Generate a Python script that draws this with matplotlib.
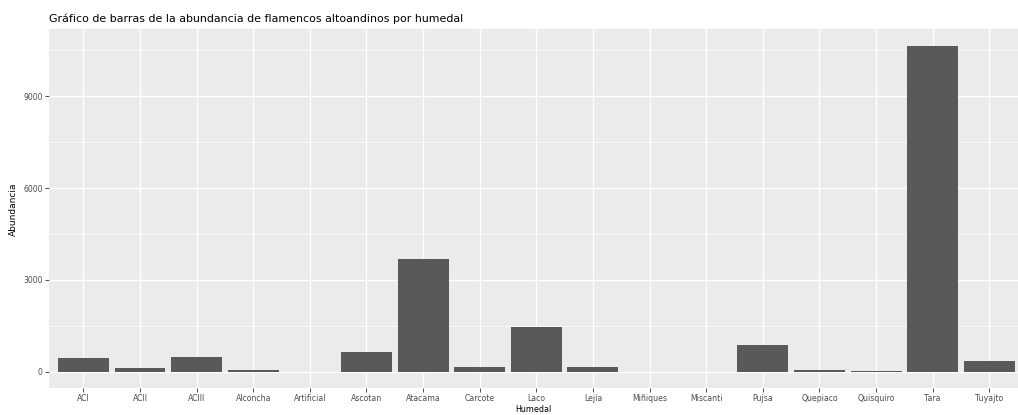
"""Bar chart: abundance of high-Andean flamingos per wetland (ggplot-like style)."""

import matplotlib
matplotlib.use("Agg")
import matplotlib.pyplot as plt
import numpy as np

humedales = ["ACI", "ACII", "ACIII", "Alconcha", "Artificial", "Ascotan",
             "Atacama", "Carcote", "Laco", "Lejía", "Miñiques", "Miscanti",
             "Pujsa", "Quepiaco", "Quisquiro", "Tara", "Tuyajto"]
abundancia = [455, 105, 477, 54, 0, 646, 3690, 159, 1463, 169, 0, 0,
              860, 41, 30, 10650, 360]

titulo = "Gráfico de barras de la abundancia de flamencos altoandinos por humedal"
y_ticks = [0, 3000, 6000, 9000]

W, H = 1018, 415
fig = plt.figure(figsize=(W / 100, H / 100), dpi=100)
fig.patch.set_facecolor("white")

# panel placement in pixels (right side runs past the image edge, as in the reference)
left, right, top, bottom = 49.4, 1023.3, 29.5, 388.0
ax = fig.add_axes([left / W, (H - bottom) / H, (right - left) / W, (bottom - top) / H])
ax.set_facecolor("#EBEBEB")

x = np.arange(1, len(humedales) + 1)
ax.bar(x, abundancia, width=0.9, color="#595959", zorder=3)

ymax = max(abundancia)
ax.set_xlim(0.4, len(humedales) + 0.6)
ax.set_ylim(-0.05 * ymax, 1.05 * ymax)

ax.set_xticks(x)
ax.set_xticklabels(humedales)
ax.set_yticks(y_ticks)
ax.set_yticklabels([str(v) for v in y_ticks])
ax.set_yticks([1500, 4500, 7500, 10500], minor=True)

ax.grid(True, which="major", color="white", linewidth=1.0, zorder=0)
ax.grid(True, which="minor", axis="y", color="white", linewidth=0.5, zorder=0)
ax.tick_params(axis="both", which="major", length=2.7, width=0.6,
               color="#333333", labelcolor="#4D4D4D", labelsize=5.6)
ax.tick_params(axis="x", which="major", pad=1.5)
ax.tick_params(axis="y", which="major", pad=2)
ax.tick_params(axis="both", which="minor", length=0)
for s in ax.spines.values():
    s.set_visible(False)

ax.set_ylabel("Abundancia", fontsize=6.5, color="black")
ax.yaxis.set_label_coords((18 - left) / (right - left), 0.5)

# x-axis title kept against the bottom edge (the reference crops it)
fig.text((left + right) / 2 / W - 0.003, 1 / H, "Humedal", fontsize=5.8,
         color="black", ha="center", va="bottom")

fig.text(left / W, 1 - 19 / H, titulo, fontsize=7.9, color="black",
         ha="left", va="center")

fig.savefig("out.png", dpi=100)
